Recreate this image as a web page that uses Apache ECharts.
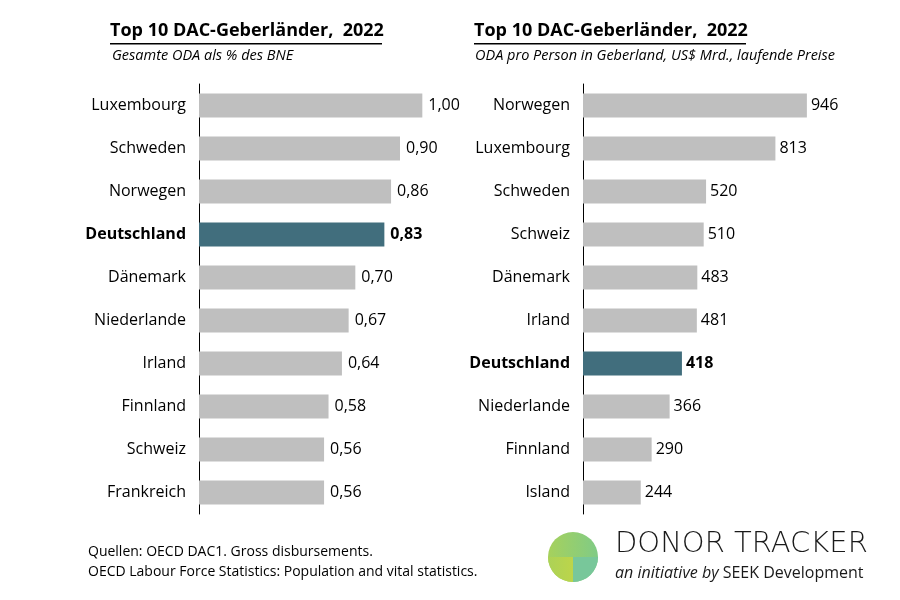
<!DOCTYPE html>
<html><head><meta charset="utf-8">
<script src="https://cdn.jsdelivr.net/npm/echarts@6/dist/echarts.min.js"></script>
<style>html,body{margin:0;padding:0;background:#fff}#c{width:900px;height:600px}</style>
</head><body><div id="c"></div>
<script>
const leftCategories = ['Luxembourg','Schweden','Norwegen','Deutschland','Dänemark','Niederlande','Irland','Finnland','Schweiz','Frankreich'];
const leftValues = [1.00,0.90,0.86,0.83,0.70,0.67,0.64,0.58,0.56,0.56];
const rightCategories = ['Norwegen','Luxembourg','Schweden','Schweiz','Dänemark','Irland','Deutschland','Niederlande','Finnland','Island'];
const rightValues = [946,813,520,510,483,481,418,366,290,244];
const highlight = 'Deutschland';

const FONT = '"Open Sans", "Noto Sans", sans-serif';
const GRAY = '#bfbfbf', TEAL = '#416e7d';

function barData(cats, vals){
  return vals.map((v,i)=>({value:v, itemStyle:{color: cats[i]===highlight?TEAL:GRAY},
    label:{fontWeight: cats[i]===highlight?'bold':'normal'}}));
}
function catAxis(idx, cats){
  return {type:'category', gridIndex:idx, data:cats, inverse:true,
    axisLine:{show:true,lineStyle:{color:'#000',width:1}}, axisTick:{show:false},
    axisLabel:{margin:13, fontSize:16, fontFamily:FONT, color:'#000',
      formatter:v=> v===highlight?'{b|'+v+'}':v,
      rich:{b:{fontWeight:'bold',fontSize:16,fontFamily:FONT,color:'#000'}}}};
}
const chart = echarts.init(document.getElementById('c'));
const cx = 573, cy = 557, r = 25;
chart.setOption({
  animation:false,
  grid:[{left:199, top:84, height:430, width:268},{left:583, top:84, height:430, width:284}],
  xAxis:[{type:'value',gridIndex:0,min:0,max:1.2,show:false},{type:'value',gridIndex:1,min:0,max:1200,show:false}],
  yAxis:[catAxis(0,leftCategories), catAxis(1,rightCategories)],
  series:[
    {type:'bar', xAxisIndex:0, yAxisIndex:0, data:barData(leftCategories,leftValues), barWidth:24,
     label:{show:true, position:'right', distance:6, fontSize:16, fontFamily:FONT, color:'#000',
       formatter:p=>p.value.toFixed(2).replace('.',',')}},
    {type:'bar', xAxisIndex:1, yAxisIndex:1, data:barData(rightCategories,rightValues), barWidth:24,
     label:{show:true, position:'right', distance:4, fontSize:16, fontFamily:FONT, color:'#000'}}
  ],
  graphic:[
    {type:'text', left:110, top:22, style:{text:'Top 10 DAC-Geberländer,  2022', font:'bold 18px '+FONT, fill:'#000'}},
    {type:'rect', shape:{x:110,y:43,width:272,height:1.5}, style:{fill:'#000'}},
    {type:'text', left:112, top:48, style:{text:'Gesamte ODA als % des BNE', font:'italic 14.5px '+FONT, fill:'#000'}},
    {type:'text', left:474, top:22, style:{text:'Top 10 DAC-Geberländer,  2022', font:'bold 18px '+FONT, fill:'#000'}},
    {type:'rect', shape:{x:474,y:43,width:272,height:1.5}, style:{fill:'#000'}},
    {type:'text', left:475, top:48, style:{text:'ODA pro Person in Geberland, US$ Mrd., laufende Preise', font:'italic 14.5px '+FONT, fill:'#000'}},
    {type:'text', left:88, top:545, style:{text:'Quellen: OECD DAC1. Gross disbursements.', font:'14px '+FONT, fill:'#000'}},
    {type:'text', left:88, top:565, style:{text:'OECD Labour Force Statistics: Population and vital statistics.', font:'14px '+FONT, fill:'#000'}},
    {type:'circle', shape:{cx:cx, cy:cy, r:r}, style:{fill:new echarts.graphic.LinearGradient(0,0,1,0,[{offset:0,color:'#a6d15c'},{offset:1,color:'#80cb86'}])}},
    {type:'sector', shape:{cx:cx, cy:cy, r:r, r0:0, startAngle:0, endAngle:Math.PI/2, clockwise:true}, style:{fill:'#78c79a'}},
    {type:'sector', shape:{cx:cx, cy:cy, r:r, r0:0, startAngle:Math.PI/2, endAngle:Math.PI, clockwise:true}, style:{fill:new echarts.graphic.LinearGradient(0,0,1,0,[{offset:0,color:'#acd257'},{offset:1,color:'#bcd54a'}])}},
    {type:'text', left:615, top:530, style:{text:'DONOR TRACKER', font:'200 29px "DejaVu Sans", sans-serif', fill:'#1a1a1a'}},
    {type:'text', left:615, top:565, style:{text:'{i|an initiative by} SEEK Development', font:'16px '+FONT, fill:'#1a1a1a',
      rich:{i:{fontStyle:'italic', fontSize:16, fontFamily:FONT, fill:'#1a1a1a'}}}}
  ]
});
</script></body></html>
